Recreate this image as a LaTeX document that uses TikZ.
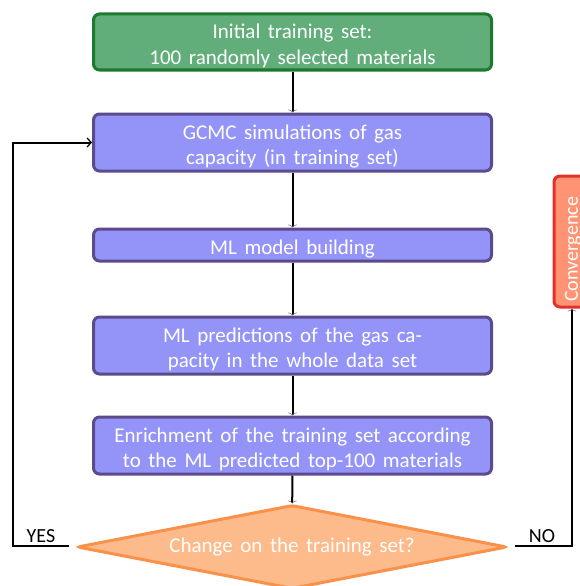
\documentclass[tikz,border=0pt]{standalone}
\usepackage{fontspec}
\setmainfont[WordSpace=1.6]{Carlito}
\usetikzlibrary{shapes.geometric,arrows.meta}
\definecolor{gfill}{HTML}{62AE7A}
\definecolor{gdraw}{HTML}{1B7A2E}
\definecolor{bfill}{HTML}{9494F8}
\definecolor{bdraw}{HTML}{5B4A8C}
\definecolor{dfill}{HTML}{FDBA8A}
\definecolor{ddraw}{HTML}{F9914A}
\definecolor{cfill}{HTML}{FF9374}
\definecolor{cdraw}{HTML}{E2302A}
\tikzset{
  x=1pt, y=-1pt,
  txt/.style={font=\fontsize{21}{25.5}\selectfont, text=white, align=center},
  boxtext/.style={label={[txt, inner sep=0pt, yshift=-4pt]center:{#1}}},
  stepbox/.style={rounded corners=6pt, line width=3pt, minimum width=398pt, inner sep=0pt},
  greenbox/.style={stepbox, fill=gfill, draw=gdraw},
  bluebox/.style={stepbox, fill=bfill, draw=bdraw},
  conn/.style={line width=2pt, -{To[gray,length=3pt,width=9pt,line width=0.6pt]}},
  lab/.style={font=\fontsize{20}{22}\selectfont, text=black, inner sep=0pt}
}
\begin{document}
\begin{tikzpicture}
\useasboundingbox (0,0) rectangle (580,586);
\clip (0,0) rectangle (580,586);
\node[greenbox, minimum height=56pt, boxtext={Initial training set:\\100 randomly selected materials}] (g1) at (292.5,42) {};
\node[bluebox, minimum height=57pt, boxtext={GCMC simulations of gas\\capacity (in training set)}] (g2) at (292.5,142.5) {};
\node[bluebox, minimum height=32pt, boxtext={ML model building}] (g3) at (292.5,245) {};
\node[bluebox, minimum height=57pt, boxtext={ML predictions of the gas ca-\\pacity in the whole data set}] (g4) at (292.5,345.5) {};
\node[bluebox, minimum height=57pt, boxtext={Enrichment of the training set according\\to the ML predicted top-100 materials}] (g5) at (292.5,445.5) {};
\node[diamond, aspect=5, txt, fill=dfill, draw=ddraw, line width=3pt, rounded corners=3pt, minimum width=430pt, minimum height=84pt, inner sep=0pt] (d) at (292,547) {Change on the training set?};
\node[fill=cfill, draw=cdraw, line width=3pt, rounded corners=6pt, minimum width=36pt, minimum height=131pt, inner sep=0pt,
  label={[txt, font=\fontsize{20}{24}\selectfont, inner sep=0pt, yshift=-8pt, xshift=1pt, rotate=90]center:Convergence}] (c) at (572,241.5) {};
\draw[conn] (g1) -- (g2);
\draw[conn] (g2) -- (g3);
\draw[conn] (g3) -- (g4);
\draw[conn] (g4) -- (g5);
\draw[conn] (g5) -- (d);
\coordinate (yl) at (69,546);
\coordinate (yc) at (13,546);
\draw[line width=2pt, -{Straight Barb[black,length=4pt,width=9pt,line width=1.3pt]}] (yl) -- (yc) |- (g2.west);
\coordinate (nl) at (515,546);
\draw[conn] (nl) -| (c.south);
\node[lab, anchor=south] (yes) at (41,543) {YES};
\node[lab, anchor=south] (no) at (542,543) {NO};
\end{tikzpicture}
\end{document}
